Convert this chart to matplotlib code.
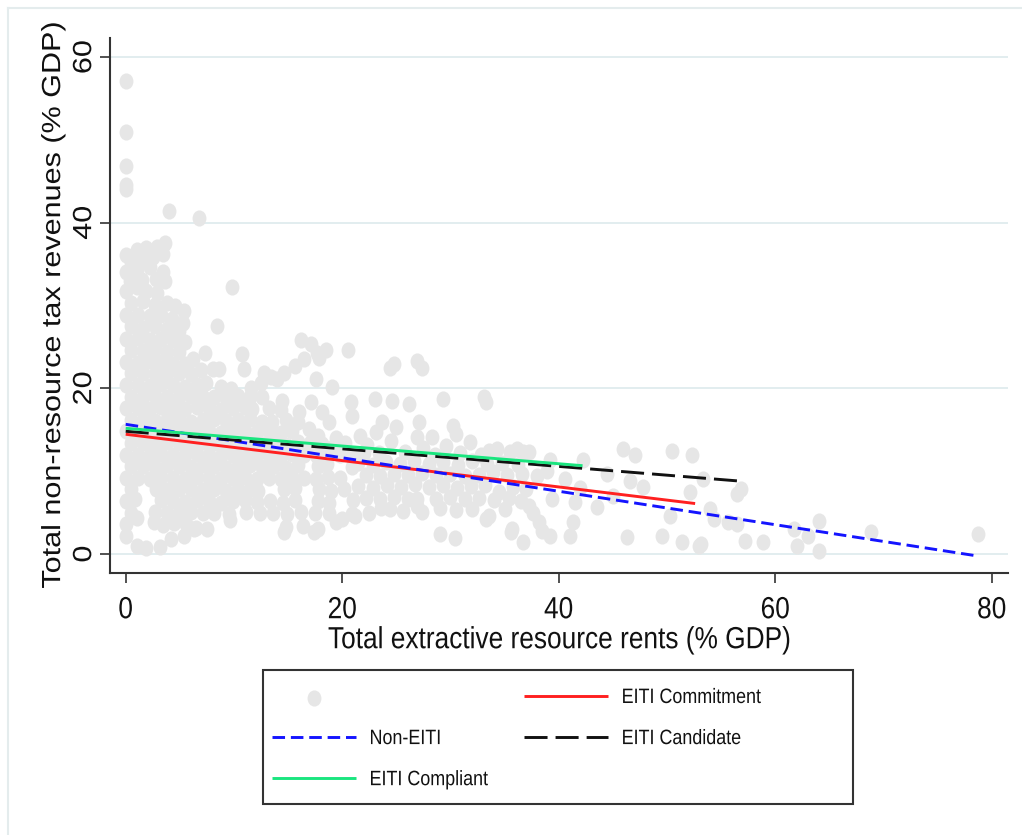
import numpy as np
import matplotlib
matplotlib.use("Agg")
import matplotlib.pyplot as plt
from matplotlib.path import Path
from matplotlib.patches import Rectangle
from matplotlib.lines import Line2D
from matplotlib.patheffects import AbstractPathEffect
from matplotlib.transforms import Affine2D

plt.rcParams['font.family'] = ['Liberation Sans', 'DejaVu Sans']

# scatter points (rents % GDP, non-resource tax % GDP)
outliers = [(0.0, 57.1), (0.0, 51.0), (0.0, 46.9), (0.0, 44.1), (0.0, 44.6),
            (4.0, 41.4), (6.8, 40.6), (9.8, 32.2), (8.4, 27.5)]

upper_blob = [
    (0.0, 36.1), (1.0, 36.7), (1.9, 37.0), (2.9, 37.1), (3.6, 37.6),
    (0.5, 35.2), (1.5, 35.5), (2.5, 35.8), (3.4, 36.2),
    (0.0, 34.1), (1.0, 34.3), (2.2, 34.6), (3.4, 34.1),
    (0.4, 33.0), (1.5, 33.1), (2.8, 33.2), (3.6, 33.0),
    (0.0, 31.7), (1.0, 32.2), (1.9, 31.7), (2.9, 31.5),
    (0.5, 30.3), (1.6, 30.5), (2.7, 30.1), (3.8, 30.3), (4.6, 29.9),
    (0.0, 28.9), (1.1, 28.9), (2.2, 28.7), (3.3, 28.8), (4.3, 28.4), (5.4, 29.4),
    (0.5, 27.5), (1.6, 27.3), (2.7, 27.5), (3.8, 27.2), (4.9, 26.9), (5.3, 27.9),
    (0.0, 26.0), (1.1, 26.1), (2.2, 25.9), (3.3, 26.0), (4.4, 25.8), (5.5, 25.6),
    (0.5, 24.6), (1.6, 24.5), (2.7, 24.7), (3.8, 24.4), (4.9, 24.4), (7.3, 24.3), (10.7, 24.2),
    (0.0, 23.2), (1.1, 23.1), (2.2, 23.3), (3.3, 23.2), (4.4, 23.0), (5.5, 23.0), (6.2, 23.6),
    (0.5, 21.8), (1.6, 21.9), (2.7, 21.7), (3.8, 21.8), (4.9, 21.9), (6.0, 21.7), (7.0, 22.2),
    (8.1, 22.3), (8.6, 22.3), (10.9, 22.3), (12.8, 21.9), (14.0, 21.1), (13.4, 21.4),
    (14.6, 21.9), (15.6, 22.7), (16.5, 23.5), (17.7, 24.3), (16.2, 25.9), (17.1, 25.3),
    (18.5, 24.6), (20.5, 24.6), (17.9, 23.7), (17.6, 21.1), (19.1, 20.2),
    (24.4, 22.5), (24.8, 22.9), (26.9, 23.3), (27.4, 22.5),
    (0.0, 20.4), (1.1, 20.4), (2.2, 20.3), (3.3, 20.5), (4.4, 20.4), (5.5, 20.2),
    (6.6, 20.4), (7.4, 20.6), (8.8, 20.2), (9.7, 19.9), (11.6, 20.1), (12.5, 20.7),
]

dense_blob = [
    (0.5, 19.0), (1.6, 19.0), (2.7, 19.1), (3.8, 18.9), (4.9, 19.0), (6.0, 19.1), (7.1, 18.9),
    (8.2, 19.0), (9.3, 18.8), (10.4, 19.1), (11.5, 18.9), (12.6, 19.0), (14.4, 18.5),
    (0.0, 17.6), (1.1, 17.6), (2.2, 17.5), (3.3, 17.7), (4.4, 17.6), (5.5, 17.5), (6.6, 17.7),
    (7.7, 17.6), (8.8, 17.4), (9.9, 17.6), (11.0, 17.7), (11.7, 17.5), (13.2, 17.6), (14.3, 17.4),
    (16.0, 17.2), (17.1, 18.3), (18.1, 17.1), (20.8, 18.3), (23.0, 18.7), (24.6, 18.5),
    (26.2, 18.1), (29.3, 18.7), (33.1, 18.9), (33.3, 18.4),
    (0.5, 16.2), (1.6, 16.2), (2.7, 16.1), (3.8, 16.3), (4.9, 16.2), (6.0, 16.0), (7.1, 16.2),
    (8.2, 16.3), (9.3, 16.1), (10.4, 16.2), (11.5, 16.3), (12.6, 16.0), (13.5, 15.9), (14.8, 16.2),
    (15.9, 16.0), (18.8, 15.9), (20.9, 16.7), (23.7, 16.0), (27.1, 16.0),
    (0.0, 14.8), (1.1, 14.8), (2.2, 14.7), (3.3, 14.9), (4.4, 14.8), (5.5, 14.7), (6.6, 14.9),
    (7.7, 14.8), (8.8, 14.6), (9.9, 14.8), (11.0, 14.9), (12.1, 14.7), (13.2, 14.8), (14.3, 14.6),
    (15.4, 14.9), (16.9, 15.1), (17.8, 14.2), (19.4, 14.0), (21.6, 14.2), (23.1, 14.7),
    (25.0, 15.3), (26.9, 14.1), (28.3, 14.1), (30.2, 15.4), (30.5, 14.5),
    (0.5, 13.4), (1.6, 13.4), (2.7, 13.3), (3.8, 13.5), (4.9, 13.4), (6.0, 13.3), (7.1, 13.5),
    (8.2, 13.4), (9.3, 13.2), (10.4, 13.4), (11.5, 13.5), (12.6, 13.3), (13.7, 13.4), (14.8, 13.2),
    (15.9, 13.5), (17.0, 13.4), (18.1, 13.3), (19.2, 13.0), (20.3, 13.4), (22.3, 13.2),
    (24.5, 13.6), (27.5, 12.8), (29.6, 13.0), (31.8, 13.5), (33.6, 12.4), (34.3, 12.7),
    (35.5, 12.3), (36.1, 12.7), (37.3, 12.3), (39.2, 11.4),
    (0.0, 12.0), (1.1, 12.0), (2.2, 11.9), (3.3, 12.1), (4.4, 12.0), (5.5, 11.9), (6.6, 12.1),
    (7.7, 12.0), (8.8, 11.8), (9.9, 12.0), (11.0, 12.1), (12.1, 11.9), (13.2, 12.0), (14.3, 11.8),
    (15.4, 12.1), (16.5, 12.0), (17.6, 11.9), (18.7, 12.1), (19.8, 12.0), (20.9, 11.8), (22.0, 12.2),
    (0.5, 10.6), (1.6, 10.6), (2.7, 10.5), (3.8, 10.7), (4.9, 10.6), (6.0, 10.5), (7.1, 10.7),
    (8.2, 10.6), (9.3, 10.4), (10.4, 10.6), (11.5, 10.7), (12.6, 10.5), (13.7, 10.6), (14.8, 10.4),
    (15.9, 10.7), (17.8, 10.6), (18.6, 10.9), (20.9, 10.5),
    (0.0, 9.2), (1.1, 9.2), (2.2, 9.1), (3.3, 9.3), (4.4, 9.2), (5.5, 9.1), (6.6, 9.3),
    (7.7, 9.2), (8.8, 9.0), (9.9, 9.2), (11.0, 9.3), (12.1, 9.1), (13.2, 9.2), (14.3, 9.0),
    (15.4, 9.3), (16.5, 9.2), (17.6, 9.1), (18.7, 9.3), (19.8, 9.2),
    (0.5, 7.8), (2.8, 7.9), (3.8, 7.7), (4.9, 7.8), (6.0, 7.9), (7.1, 7.7), (8.2, 7.8),
    (9.3, 7.6), (10.4, 7.8), (11.5, 7.9), (12.2, 7.6), (14.6, 7.8), (15.6, 8.0), (17.9, 7.8),
    (19.0, 7.6), (20.2, 7.9),
    (0.0, 6.4), (0.9, 6.6), (3.3, 6.5), (4.4, 6.4), (5.5, 6.3), (6.6, 6.5), (7.7, 6.4),
    (8.8, 6.2), (9.9, 6.4), (11.0, 6.5), (12.1, 6.3), (13.3, 6.4), (14.5, 6.2), (15.6, 6.5),
    (17.8, 6.4), (18.8, 6.2), (21.0, 6.5),
    (0.5, 5.0), (2.7, 5.1), (3.8, 4.9), (4.9, 5.0), (6.0, 5.1), (7.1, 4.9), (8.2, 5.0),
    (9.5, 4.8), (11.1, 5.1), (12.4, 4.9), (13.6, 5.0), (14.9, 4.8), (16.2, 5.1), (17.5, 4.9),
    (18.8, 5.0), (20.9, 4.8),
    (0.0, 3.6), (1.0, 4.4), (2.6, 3.9), (3.4, 3.5), (4.5, 3.7), (5.6, 3.6), (6.5, 3.2),
    (7.5, 3.0), (9.6, 4.1), (14.8, 3.3), (16.4, 3.4), (17.8, 3.0), (19.4, 3.9),
    (0.0, 2.2), (1.0, 1.0), (1.9, 0.7), (3.2, 0.8), (4.2, 1.8), (5.4, 2.2), (6.3, 3.0),
    (14.6, 2.6), (17.4, 2.6),
]

middle = [
    (21.5, 11.0), (22.8, 10.8), (24.0, 11.1), (25.3, 10.9), (26.6, 11.2), (28.0, 10.9),
    (29.3, 11.1), (30.7, 10.8), (32.0, 11.2), (33.4, 10.9), (34.8, 11.0), (36.2, 10.8),
    (23.4, 12.2), (25.8, 12.3), (28.6, 12.0), (30.9, 12.2), (32.8, 12.0),
    (22.2, 9.6), (23.5, 9.4), (24.8, 9.7), (26.1, 9.5), (27.4, 9.8), (28.7, 9.5),
    (30.0, 9.7), (31.3, 9.4), (32.6, 9.6), (33.9, 9.9), (35.2, 9.5), (36.6, 9.7), (38.0, 9.4),
    (21.5, 8.2), (22.8, 8.0), (24.1, 8.3), (25.4, 8.1), (26.7, 8.4), (28.0, 8.1),
    (29.3, 8.3), (30.6, 8.0), (31.9, 8.2), (33.2, 8.3), (34.5, 7.5), (35.8, 8.1), (37.0, 7.8),
    (22.2, 6.8), (23.5, 6.6), (24.8, 6.9), (26.1, 6.7), (26.9, 6.6), (28.7, 6.7),
    (30.0, 6.9), (31.3, 6.6), (32.6, 6.8), (34.0, 6.5), (35.4, 6.8), (36.5, 6.4),
    (22.5, 5.0), (23.6, 5.5), (24.4, 5.4), (25.6, 5.2), (26.9, 5.8), (27.4, 5.1), (29.0, 5.6),
    (30.5, 5.3), (32.0, 5.4), (33.6, 4.6), (35.0, 5.4),
    (37.3, 5.8), (20.0, 4.2), (21.2, 4.6), (33.3, 4.2), (35.7, 3.0), (38.2, 3.9),
    (29.0, 2.4), (30.4, 1.9), (35.6, 2.6), (36.7, 1.5), (38.5, 2.8), (39.2, 2.2),
    (37.6, 5.0), (39.4, 6.6), (38.9, 10.0), (40.6, 9.0), (42.0, 8.0), (41.5, 6.3),
]

right_tail = [
    (42.2, 11.4), (45.9, 12.7), (47.0, 12.0), (50.5, 12.4), (52.3, 12.0), (36.7, 12.3),
    (44.5, 9.7), (45.0, 7.0), (46.6, 8.8), (47.8, 8.1), (52.1, 7.5), (53.3, 9.0),
    (43.5, 5.7), (41.3, 3.9), (41.0, 2.2), (46.3, 2.0), (49.5, 2.2), (51.4, 1.4),
    (53.1, 1.2), (50.3, 4.6), (56.5, 7.2), (56.8, 7.8), (54.0, 5.4), (54.3, 4.2),
    (55.6, 3.9), (56.5, 3.6), (53.0, 1.0), (57.2, 1.6), (58.9, 1.4), (61.7, 3.0),
    (62.0, 1.0), (63.0, 2.2), (64.0, 4.0), (64.0, 0.4), (68.8, 2.6), (78.7, 2.4),
]

# fitted lines: intercept, slope, largest rent
groups = ['EITI Commitment', 'Non-EITI', 'EITI Candidate', 'EITI Compliant']
intercepts = [14.46, 15.66, 14.82, 15.18]
slopes = [-0.159, -0.202, -0.106, -0.107]
x_max = [52.6, 78.7, 56.7, 42.2]
colors = ['#ff2020', '#1414ff', '#111111', '#1ae57f']
dashes = [None, (4.3, 2.0), (7.9, 2.75), None]


class Squeeze(AbstractPathEffect):
    """Draw text narrower, like the original (horizontally squeezed) export."""

    def __init__(self, sx=0.86, anchor='center'):
        super().__init__()
        self.sx = sx
        self.anchor = anchor

    def draw_path(self, renderer, gc, tpath, affine, rgbFace=None):
        ext = tpath.get_extents(affine)
        cx = ext.x0 if self.anchor == 'left' else 0.5 * (ext.x0 + ext.x1)
        aff = affine + Affine2D().translate(-cx, 0).scale(self.sx, 1).translate(cx, 0)
        renderer.draw_path(gc, tpath, aff, rgbFace)


pts = np.array(outliers + upper_blob + dense_blob + middle + right_tail)

fig = plt.figure(figsize=(10.22, 8.35), dpi=100)
W, H = 1022, 835
ax = fig.add_axes([110 / W, 1 - 573 / H, (1008 - 110) / W, (573 - 38) / H])

circ = Path.unit_circle()
ell = Path(circ.vertices * np.array([0.86, 1.0]), circ.codes)

sc = ax.scatter(pts[:, 0], pts[:, 1], s=135, marker=ell, color='#e6e6e6',
                linewidths=0, zorder=2)

handles = {}
for g, a, b, xm, c, d in zip(groups, intercepts, slopes, x_max, colors, dashes):
    xs = np.array([0.0, xm])
    ln, = ax.plot(xs, a + b * xs, color=c, lw=2.1, zorder=3,
                  solid_capstyle='butt', dash_capstyle='butt')
    if d is not None:
        ln.set_dashes(d)
    handles[g] = ln

ax.set_xlim(-1.45, 81.5)
ax.set_ylim(-2.29, 62.3)
ax.set_xticks([0, 20, 40, 60, 80])
ax.set_yticks([0, 20, 40, 60])
ax.set_axisbelow(True)
ax.yaxis.grid(True, color='#e2edef', lw=1.4)
for s in ['top', 'right']:
    ax.spines[s].set_visible(False)
for s in ['left', 'bottom']:
    ax.spines[s].set_color('#333333')
    ax.spines[s].set_linewidth(1.5)
ax.tick_params(axis='both', direction='out', length=7.5, width=1.2,
               color='#333333', labelsize=22, labelcolor='#111111')
ax.tick_params(axis='x', pad=8.5)
ax.tick_params(axis='y', pad=0)
for lab in ax.get_yticklabels():
    lab.set_rotation(90)
    lab.set_va('center')
    lab.set_path_effects([Squeeze()])
for lab in ax.get_xticklabels():
    lab.set_path_effects([Squeeze()])

ax.set_xlabel('Total extractive resource rents (% GDP)', fontsize=22,
              color='#111111', labelpad=0, path_effects=[Squeeze()])
ax.set_ylabel('Total non-resource tax revenues (% GDP)', fontsize=22,
              color='#111111', labelpad=1, path_effects=[Squeeze()])

leg = fig.legend([sc, handles['Non-EITI'], handles['EITI Compliant'],
                  handles['EITI Commitment'], handles['EITI Candidate']],
                 ['', 'Non-EITI', 'EITI Compliant', 'EITI Commitment', 'EITI Candidate'],
                 ncol=2, loc='upper left', bbox_to_anchor=(272 / W, 1 - 688 / H),
                 frameon=False, fontsize=15, handlelength=4.05, handletextpad=0.62,
                 columnspacing=0.8, labelspacing=1.06, borderpad=0, borderaxespad=0,
                 scatterpoints=1)
for t in leg.get_texts():
    t.set_color('#111111')
    t.set_path_effects([Squeeze(anchor='left')])

fig.add_artist(Rectangle((263 / W, 1 - 804 / H), (853 - 263) / W, (804 - 670) / H,
                         transform=fig.transFigure, fill=False, ec='#333333', lw=1.5))
fig.add_artist(Line2D([8 / W, 1.0], [1 - 8 / H, 1 - 8 / H], transform=fig.transFigure,
                      color='#e4eced', lw=1.5))
fig.add_artist(Line2D([8 / W, 8 / W], [0.0, 1 - 8 / H], transform=fig.transFigure,
                      color='#e4eced', lw=1.5))

fig.savefig('out.png', dpi=100, facecolor='white')
